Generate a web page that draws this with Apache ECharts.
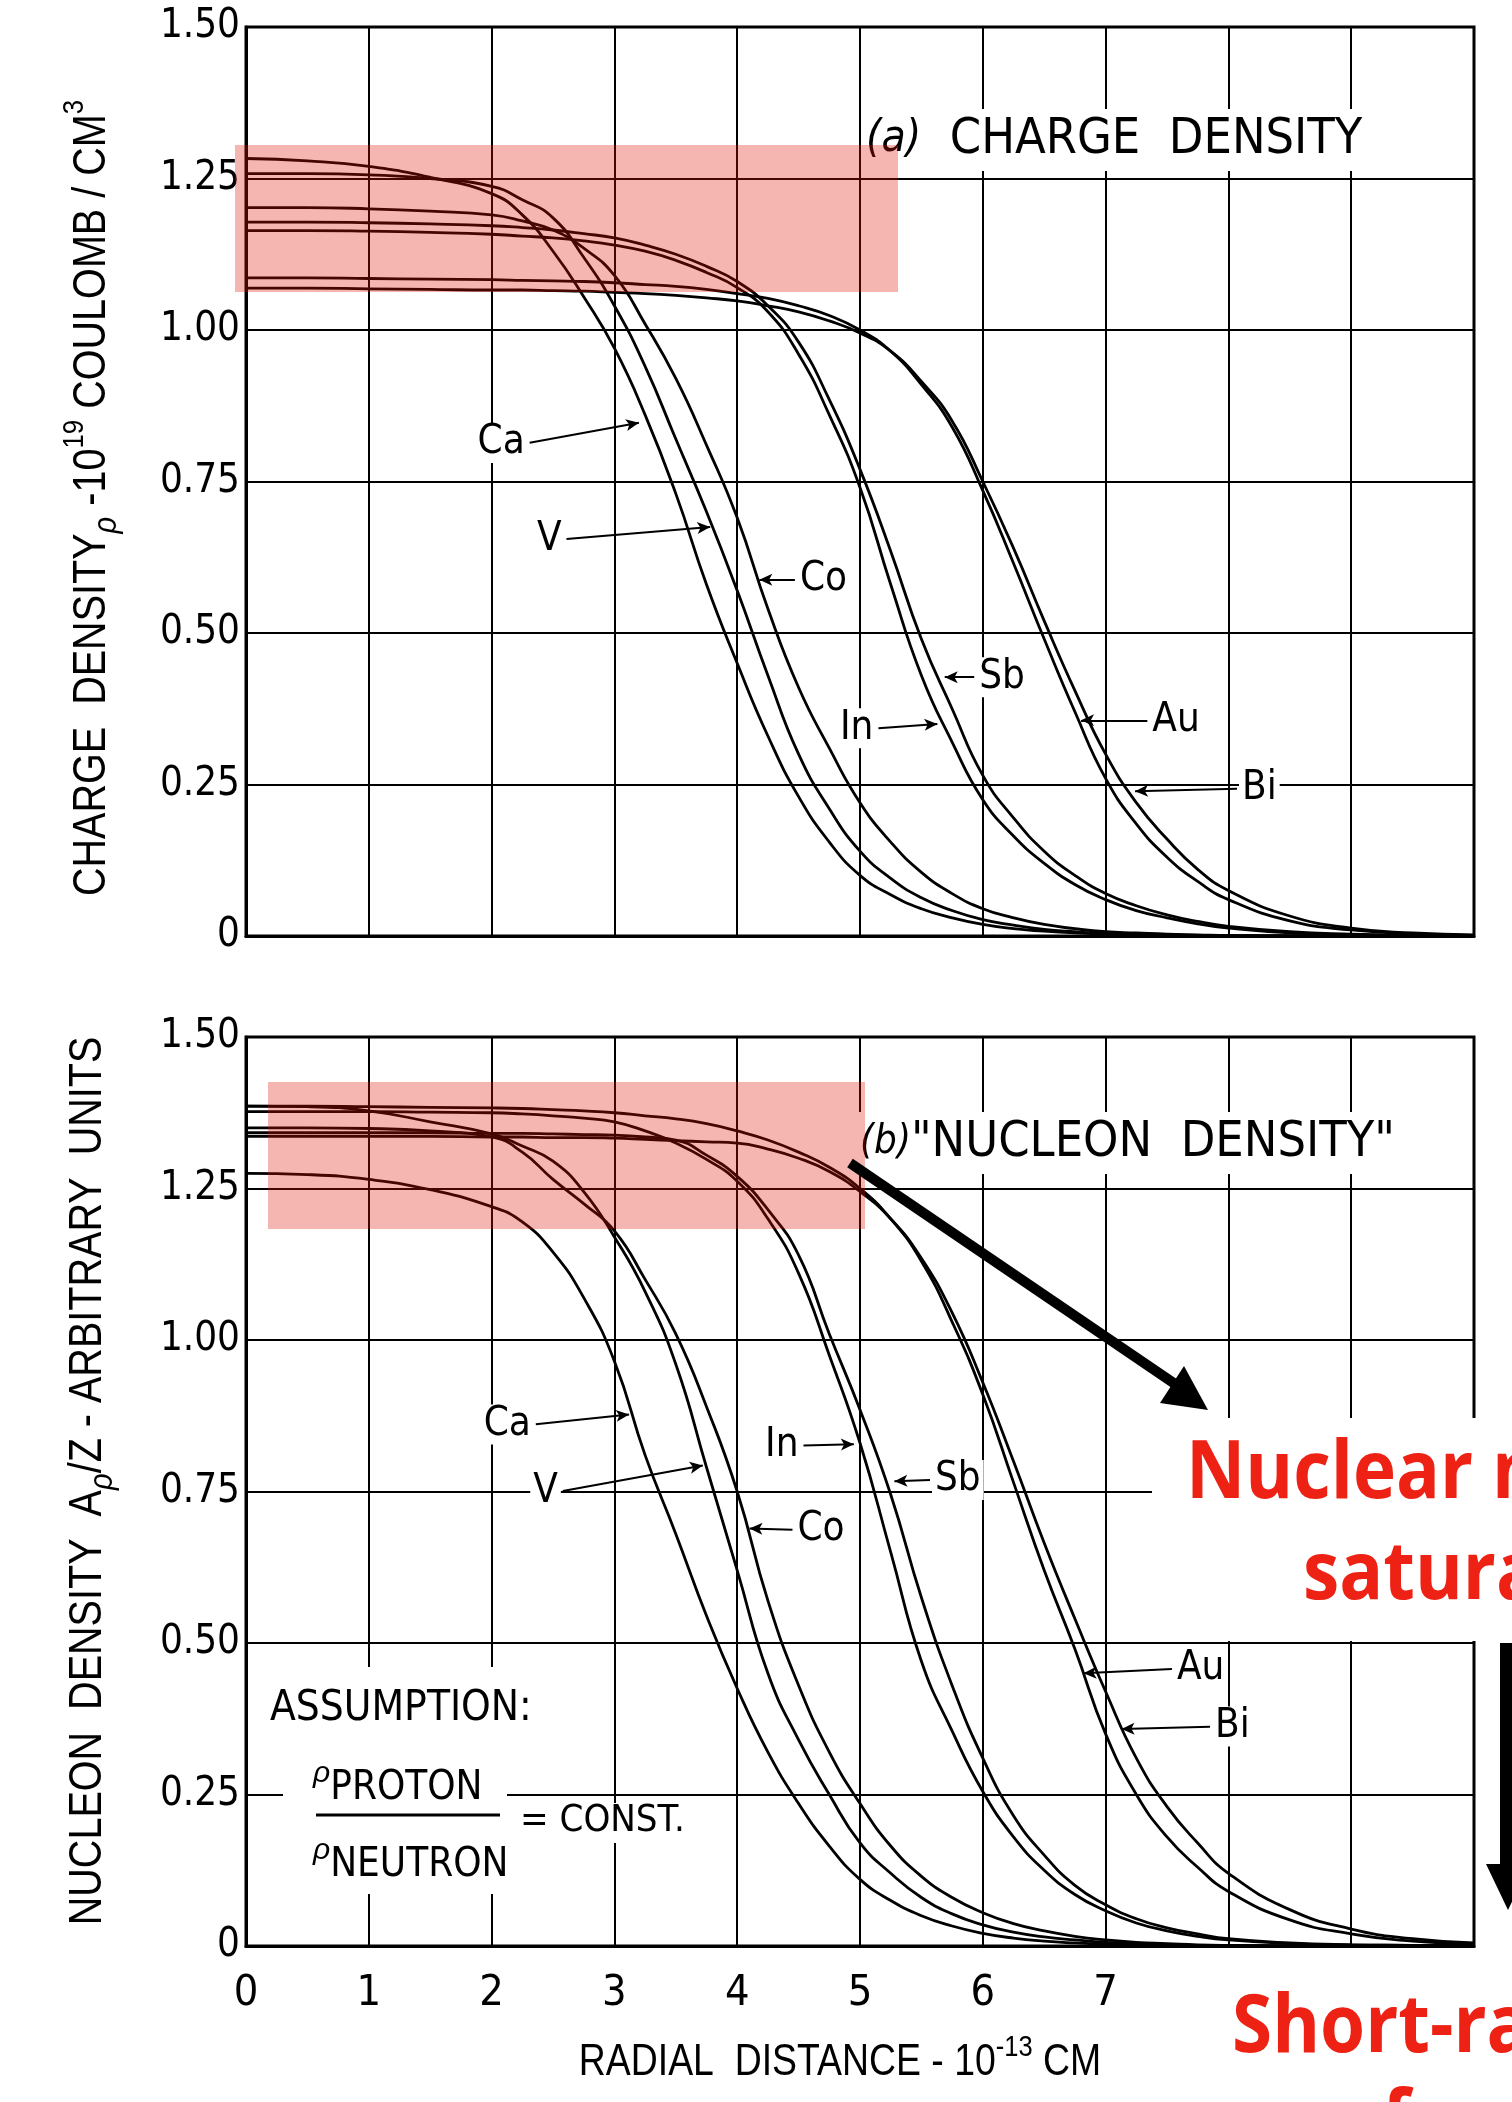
<!DOCTYPE html>
<html>
<head>
<meta charset="utf-8">
<script src="https://cdn.jsdelivr.net/npm/echarts@6/dist/echarts.min.js"></script>
<style>
html,body{margin:0;padding:0;background:#ffffff;}
#chart{width:1512px;height:2102px;}
</style>
</head>
<body>
<div id="chart"></div>
<script>
// ---------------- DATA ----------------
const radius = [0, 0.5, 1, 1.5, 2, 2.25, 2.5, 2.75, 3, 3.25, 3.5, 3.75, 4, 4.25, 4.5, 4.75, 5, 5.25, 5.5, 5.75, 6, 6.25, 6.5, 6.75, 7, 7.25, 7.5, 7.75, 8, 8.5, 9, 9.5, 10];
const elements = ['Ca', 'V', 'Co', 'In', 'Sb', 'Au', 'Bi'];
const xTickLabels = ['0', '1', '2', '3', '4', '5', '6', '7'];
const yTickLabels = ['0', '0.25', '0.50', '0.75', '1.00', '1.25', '1.50'];

// (a) charge density, 10^19 coulomb / cm^3
const chargeCa = [1.283,1.279,1.27,1.252,1.225,1.19,1.13,1.055,0.97,0.86,0.73,0.58,0.45,0.33,0.23,0.155,0.10,0.068,0.045,0.03,0.019,0.012,0.008,0.005,0.003,0.002,0.001,0.001,0,0,0,0,0];
const chargeV  = [1.258,1.258,1.256,1.25,1.237,1.215,1.185,1.12,1.04,0.94,0.82,0.70,0.57,0.43,0.30,0.21,0.14,0.095,0.063,0.042,0.027,0.018,0.011,0.007,0.004,0.003,0.002,0.001,0,0,0,0,0];
const chargeCo = [1.202,1.202,1.20,1.196,1.19,1.18,1.165,1.135,1.09,1.01,0.92,0.81,0.69,0.54,0.41,0.31,0.22,0.155,0.105,0.07,0.045,0.03,0.019,0.012,0.007,0.005,0.003,0.002,0.001,0,0,0,0];
const chargeIn = [1.164,1.164,1.163,1.161,1.158,1.155,1.152,1.147,1.14,1.13,1.115,1.095,1.07,1.03,0.96,0.86,0.74,0.58,0.43,0.32,0.225,0.165,0.12,0.085,0.06,0.042,0.03,0.02,0.013,0.005,0.002,0.001,0];
const chargeSb = [1.178,1.178,1.177,1.175,1.172,1.169,1.165,1.159,1.152,1.14,1.125,1.105,1.08,1.04,0.98,0.885,0.77,0.635,0.49,0.375,0.265,0.195,0.14,0.10,0.07,0.05,0.035,0.024,0.016,0.007,0.003,0.001,0];
const chargeAu = [1.086,1.086,1.085,1.084,1.083,1.082,1.081,1.08,1.078,1.075,1.072,1.067,1.06,1.052,1.04,1.024,1.0,0.965,0.91,0.84,0.735,0.615,0.49,0.37,0.26,0.185,0.13,0.09,0.06,0.025,0.01,0.004,0.001];
const chargeBi = [1.069,1.069,1.068,1.067,1.066,1.066,1.065,1.064,1.062,1.06,1.057,1.053,1.048,1.04,1.03,1.015,0.995,0.965,0.915,0.85,0.75,0.64,0.52,0.405,0.30,0.22,0.16,0.11,0.075,0.033,0.013,0.005,0.002];

// (b) "nucleon density", A rho / Z, arbitrary units
const nucleonCa = [1.275,1.273,1.265,1.248,1.22,1.195,1.145,1.07,0.965,0.81,0.68,0.545,0.425,0.32,0.235,0.165,0.11,0.075,0.05,0.033,0.021,0.013,0.008,0.005,0.003,0.002,0.001,0.001,0,0,0,0,0];
const nucleonV  = [1.386,1.385,1.378,1.36,1.34,1.32,1.295,1.245,1.17,1.08,0.96,0.79,0.62,0.45,0.34,0.25,0.17,0.12,0.08,0.053,0.035,0.023,0.015,0.01,0.006,0.004,0.002,0.001,0.001,0,0,0,0];
const nucleonCo = [1.35,1.35,1.349,1.345,1.335,1.31,1.265,1.225,1.18,1.10,1.01,0.89,0.75,0.57,0.43,0.32,0.235,0.165,0.115,0.08,0.055,0.037,0.025,0.016,0.01,0.006,0.004,0.002,0.001,0,0,0,0];
const nucleonIn = [1.377,1.377,1.377,1.376,1.375,1.373,1.37,1.366,1.36,1.345,1.325,1.298,1.262,1.2,1.11,0.975,0.83,0.65,0.47,0.355,0.255,0.18,0.125,0.085,0.058,0.038,0.025,0.016,0.01,0.004,0.002,0.001,0];
const nucleonSb = [1.342,1.342,1.342,1.342,1.341,1.341,1.34,1.339,1.338,1.335,1.33,1.305,1.27,1.215,1.14,1.01,0.885,0.745,0.575,0.43,0.31,0.215,0.15,0.10,0.068,0.045,0.03,0.02,0.012,0.005,0.002,0.001,0];
const nucleonAu = [1.386,1.386,1.385,1.384,1.383,1.382,1.38,1.378,1.375,1.37,1.365,1.357,1.345,1.33,1.31,1.285,1.25,1.2,1.13,1.03,0.91,0.765,0.62,0.49,0.35,0.25,0.18,0.13,0.09,0.043,0.02,0.008,0.003];
const nucleonBi = [1.336,1.336,1.336,1.336,1.335,1.335,1.334,1.334,1.333,1.331,1.329,1.327,1.325,1.315,1.30,1.278,1.245,1.2,1.135,1.045,0.93,0.80,0.665,0.54,0.42,0.31,0.23,0.17,0.12,0.06,0.028,0.012,0.005];

const chargeSets  = [chargeCa, chargeV, chargeCo, chargeIn, chargeSb, chargeAu, chargeBi];
const nucleonSets = [nucleonCa, nucleonV, nucleonCo, nucleonIn, nucleonSb, nucleonAu, nucleonBi];

// ---------------- LAYOUT / STYLE ----------------
const SANS = "'Liberation Sans', 'DejaVu Sans', sans-serif";
const NARROW = "'DejaVu Sans Condensed', 'Liberation Sans Narrow', 'Liberation Sans', sans-serif";
const BOLDRED = "'Open Sans', 'Noto Sans', sans-serif";
const GRID_LEFT = 246, GRID_W = 1228;
const TOP0 = 27, H0 = 909, TOP1 = 1037, H1 = 909;

// curve-label leaders: [label end, arrow tip] in data coordinates
const chargeLeaders = {
  Ca: [[2.31, 0.814], [3.20, 0.847]],
  V:  [[2.61, 0.655], [3.78, 0.675]],
  Co: [[4.47, 0.588], [4.18, 0.588]],
  In: [[5.15, 0.343], [5.63, 0.350]],
  Sb: [[5.93, 0.427], [5.69, 0.427]],
  Au: [[7.34, 0.356], [6.80, 0.356]],
  Bi: [[8.07, 0.243], [7.24, 0.239]]
};
const nucleonLeaders = {
  Ca: [[2.36, 0.861], [3.12, 0.877]],
  V:  [[2.58, 0.751], [3.72, 0.793]],
  Co: [[4.45, 0.687], [4.10, 0.689]],
  In: [[4.54, 0.826], [4.95, 0.828]],
  Sb: [[5.57, 0.769], [5.28, 0.767]],
  Au: [[7.54, 0.457], [6.82, 0.450]],
  Bi: [[7.85, 0.362], [7.13, 0.358]]
};

function makeSeries(name, values, idx, leader) {
  return {
    type: 'line',
    name: name + (idx === 0 ? ' (a)' : ' (b)'),
    xAxisIndex: idx,
    yAxisIndex: idx,
    data: radius.map((r, i) => [r, values[i]]),
    smooth: 0.5,
    showSymbol: false,
    symbol: 'none',
    lineStyle: { color: '#000', width: 2.8 },
    z: 3,
    animation: false,
    markLine: {
      silent: true,
      animation: false,
      symbol: ['none', 'arrow'],
      symbolSize: [9, 13],
      lineStyle: { color: '#000', width: 2, type: 'solid' },
      label: {
        show: true,
        position: 'start',
        formatter: name,
        color: '#000',
        fontSize: 40,
        fontFamily: NARROW,
        backgroundColor: '#fff',
        padding: [0, 3, 0, 3],
        distance: 2
      },
      data: [[{ coord: leader[0] }, { coord: leader[1] }]]
    }
  };
}

const series = [];
elements.forEach((el, i) => series.push(makeSeries(el, chargeSets[i], 0, chargeLeaders[el])));
elements.forEach((el, i) => series.push(makeSeries(el, nucleonSets[i], 1, nucleonLeaders[el])));

function xAxisCfg(idx) {
  return {
    gridIndex: idx,
    type: 'value',
    min: 0, max: 10, interval: 1,
    axisLine: { show: true, lineStyle: { color: '#000', width: 3 } },
    axisTick: { show: false },
    axisLabel: idx === 1 ? {
      show: true,
      formatter: v => (xTickLabels[v] !== undefined ? xTickLabels[v] : ''),
      color: '#000', fontSize: 43, fontFamily: NARROW, margin: 26
    } : { show: false },
    splitLine: { show: true, lineStyle: { color: '#000', width: 2 } }
  };
}
function yAxisCfg(idx) {
  return {
    gridIndex: idx,
    type: 'value',
    min: 0, max: 1.5, interval: 0.25,
    axisLine: { show: true, lineStyle: { color: '#000', width: 3 } },
    axisTick: { show: false },
    axisLabel: {
      formatter: v => yTickLabels[Math.round(v / 0.25)],
      color: '#000', fontSize: 40, fontFamily: NARROW, margin: 6
    },
    splitLine: { show: true, lineStyle: { color: '#000', width: 2 } }
  };
}

const titleRich = {
  sup: { fontSize: 30, fontFamily: SANS, verticalAlign: 'top', lineHeight: 64, fill: '#000' },
  sub: { fontSize: 34, fontFamily: SANS, fontStyle: 'italic', verticalAlign: 'bottom', lineHeight: 64, fill: '#000' }
};

const RED = '#ee2214';
const graphic = [
  // axis titles (tall, slightly condensed lettering as in the original)
  { type: 'text', x: 92, y: 498, rotation: Math.PI / 2, scaleX: 0.86, z: 60, silent: true,
    style: { text: 'CHARGE  DENSITY{sub|ρ} -10{sup|19} COULOMB / CM{sup|3}', fill: '#000', fontSize: 46, fontFamily: SANS,
      lineHeight: 64, align: 'center', verticalAlign: 'middle', rich: titleRich } },
  { type: 'text', x: 88, y: 1481, rotation: Math.PI / 2, scaleX: 0.86, z: 60, silent: true,
    style: { text: 'NUCLEON  DENSITY  A{sub|ρ}/Z - ARBITRARY  UNITS', fill: '#000', fontSize: 46, fontFamily: SANS,
      lineHeight: 64, align: 'center', verticalAlign: 'middle', rich: titleRich } },
  { type: 'text', x: 840, y: 2063, scaleX: 0.85, z: 60, silent: true,
    style: { text: 'RADIAL  DISTANCE - 10{sup|-13} CM', fill: '#000', fontSize: 44, fontFamily: SANS,
      lineHeight: 60, align: 'center', verticalAlign: 'middle',
      rich: { sup: { fontSize: 30, fontFamily: SANS, verticalAlign: 'top', lineHeight: 60, fill: '#000' } } } },

  // white patches where the original lettering interrupts the grid
  { type: 'rect', shape: { x: 283, y: 1667, width: 224, height: 227 }, style: { fill: '#fff' }, z: 50, silent: true },
  { type: 'rect', shape: { x: 518, y: 1803, width: 170, height: 40 }, style: { fill: '#fff' }, z: 50, silent: true },
  { type: 'rect', shape: { x: 1152, y: 1418, width: 360, height: 223 }, style: { fill: '#fff' }, z: 50, silent: true },

  // panel captions
  { type: 'text', x: 862, y: 140, z: 60, silent: true,
    style: { text: '{i|(a)}  CHARGE  DENSITY', fill: '#000', fontSize: 50, fontFamily: NARROW,
      verticalAlign: 'middle', align: 'left', backgroundColor: '#fff', padding: [6, 4, 6, 4],
      rich: { i: { fontSize: 44, fontStyle: 'italic', fontFamily: NARROW, fill: '#000' } } } },
  { type: 'text', x: 856, y: 1143, z: 60, silent: true,
    style: { text: '{i|(b)}"NUCLEON  DENSITY"', fill: '#000', fontSize: 50, fontFamily: NARROW,
      verticalAlign: 'middle', align: 'left', backgroundColor: '#fff', padding: [6, 4, 6, 4],
      rich: { i: { fontSize: 40, fontStyle: 'italic', fontFamily: NARROW, fill: '#000' } } } },

  // assumption box
  { type: 'text', x: 270, y: 1709, z: 60, silent: true,
    style: { text: 'ASSUMPTION:', fill: '#000', fontSize: 42, fontFamily: NARROW, verticalAlign: 'middle', align: 'left' } },
  { type: 'text', x: 313, y: 1784, z: 60, silent: true,
    style: { text: '{r|ρ}{t|PROTON}', fill: '#000', fontSize: 40, fontFamily: NARROW, verticalAlign: 'middle', align: 'left', lineHeight: 50,
      rich: { r: { fontSize: 30, fontStyle: 'italic', verticalAlign: 'top', lineHeight: 50, fontFamily: SANS, fill: '#000' },
              t: { fontSize: 40, fontFamily: NARROW, verticalAlign: 'bottom', lineHeight: 50, fill: '#000' } } } },
  { type: 'line', z: 60, silent: true, shape: { x1: 316, y1: 1815, x2: 500, y2: 1815 }, style: { stroke: '#000', lineWidth: 3 } },
  { type: 'text', x: 313, y: 1861, z: 60, silent: true,
    style: { text: '{r|ρ}{t|NEUTRON}', fill: '#000', fontSize: 40, fontFamily: NARROW, verticalAlign: 'middle', align: 'left', lineHeight: 50,
      rich: { r: { fontSize: 30, fontStyle: 'italic', verticalAlign: 'top', lineHeight: 50, fontFamily: SANS, fill: '#000' },
              t: { fontSize: 40, fontFamily: NARROW, verticalAlign: 'bottom', lineHeight: 50, fill: '#000' } } } },
  { type: 'text', x: 520, y: 1821, z: 60, silent: true,
    style: { text: '= CONST.', fill: '#000', fontSize: 38, fontFamily: NARROW, verticalAlign: 'middle', align: 'left' } },

  // pink highlight bands
  { type: 'rect', shape: { x: 235, y: 145, width: 663, height: 147 }, style: { fill: 'rgba(222,20,5,0.31)' }, z: 100, silent: true },
  { type: 'rect', shape: { x: 268, y: 1082, width: 597, height: 147 }, style: { fill: 'rgba(222,20,5,0.31)' }, z: 100, silent: true },

  // diagonal arrow
  { type: 'line', z: 110, silent: true, shape: { x1: 850, y1: 1163, x2: 1178, y2: 1386 }, style: { stroke: '#000', lineWidth: 10 } },
  { type: 'polygon', z: 110, silent: true, shape: { points: [[1208, 1410], [1160, 1403], [1184, 1366]] }, style: { fill: '#000' } },

  // vertical arrow at right edge
  { type: 'rect', z: 110, silent: true, shape: { x: 1500, y: 1643, width: 14, height: 225 }, style: { fill: '#000' } },
  { type: 'polygon', z: 110, silent: true, shape: { points: [[1486, 1864], [1530, 1864], [1508, 1910]] }, style: { fill: '#000' } },

  // red annotation text (cut by the image edge as in the original)
  { type: 'text', x: 1186, y: 1515, scaleX: 0.9, z: 120, silent: true,
    style: { text: 'Nuclear matter', fill: RED, fontSize: 81, fontWeight: 'bold', fontFamily: BOLDRED, verticalAlign: 'bottom', align: 'left', lineHeight: 81 } },
  { type: 'text', x: 1303, y: 1616, scaleX: 0.9, z: 120, silent: true,
    style: { text: 'saturation', fill: RED, fontSize: 81, fontWeight: 'bold', fontFamily: BOLDRED, verticalAlign: 'bottom', align: 'left', lineHeight: 81 } },
  { type: 'text', x: 1232, y: 2069, scaleX: 0.9, z: 120, silent: true,
    style: { text: 'Short-range', fill: RED, fontSize: 81, fontWeight: 'bold', fontFamily: BOLDRED, verticalAlign: 'bottom', align: 'left', lineHeight: 81 } },
  { type: 'text', x: 1382, y: 2164, scaleX: 0.9, z: 120, silent: true,
    style: { text: 'force', fill: RED, fontSize: 81, fontWeight: 'bold', fontFamily: BOLDRED, verticalAlign: 'bottom', align: 'left', lineHeight: 81 } }
];

const option = {
  backgroundColor: '#ffffff',
  animation: false,
  grid: [
    { left: GRID_LEFT, top: TOP0, width: GRID_W, height: H0, show: true, borderColor: '#000', borderWidth: 3, backgroundColor: 'transparent' },
    { left: GRID_LEFT, top: TOP1, width: GRID_W, height: H1, show: true, borderColor: '#000', borderWidth: 3, backgroundColor: 'transparent' }
  ],
  xAxis: [xAxisCfg(0), xAxisCfg(1)],
  yAxis: [yAxisCfg(0), yAxisCfg(1)],
  series: series,
  graphic: graphic
};

const chart = echarts.init(document.getElementById('chart'), null, { renderer: 'canvas', width: 1512, height: 2102 });
chart.setOption(option);
</script>
</body>
</html>
